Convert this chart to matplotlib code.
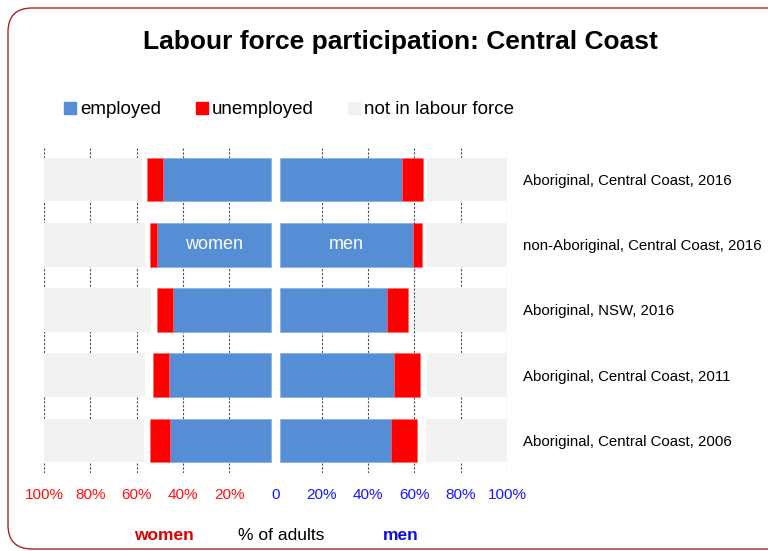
import matplotlib
matplotlib.use("Agg")
import matplotlib.pyplot as plt
from matplotlib.patches import Patch, FancyBboxPatch
from matplotlib.transforms import IdentityTransform
import numpy as np

plt.rcParams['font.family'] = ['Liberation Sans', 'DejaVu Sans']

categories = [
    "Aboriginal, Central Coast, 2016",
    "non-Aboriginal, Central Coast, 2016",
    "Aboriginal, NSW, 2016",
    "Aboriginal, Central Coast, 2011",
    "Aboriginal, Central Coast, 2006",
]

# percent of adults
women_employed = [46.4, 49.0, 42.1, 43.8, 43.7]
women_unemployed = [7.2, 3.4, 7.2, 7.2, 8.6]
women_not_in_lf = [42.2, 43.8, 46.1, 43.8, 43.0]

men_employed = [52.5, 57.4, 46.1, 49.3, 47.7]
men_unemployed = [9.3, 4.0, 9.2, 11.1, 11.5]
men_not_in_lf = [34.7, 35.2, 39.7, 34.5, 35.2]

tick_values = [-100, -80, -60, -40, -20, 0, 20, 40, 60, 80, 100]
tick_labels = ["100%", "80%", "60%", "40%", "20%", "0", "20%", "40%", "60%", "80%", "100%"]

BLUE = "#558ED5"
RED = "#FF0000"
GREY = "#F2F2F2"
GAP = 2.0  # white gap around the centre line

W, H = 768, 551
fig = plt.figure(figsize=(W / 100, H / 100), dpi=100)
ax = fig.add_axes([44 / W, 1 - 473 / H, (507 - 44) / W, (473 - 147) / H])

y = np.arange(len(categories))
h = 0.67
we = np.array(women_employed)
wu = np.array(women_unemployed)
wn = np.array(women_not_in_lf)
me = np.array(men_employed)
mu = np.array(men_unemployed)
mn = np.array(men_not_in_lf)

# grid lines behind the bars
for t in tick_values:
    if t != 0:
        ax.axvline(t, color="#505050", lw=0.8, ls=(0, (2, 1.5)), zorder=0)

# women (left)
ax.barh(y, -we, left=-GAP, height=h, color=BLUE, edgecolor="#8DB3E2", lw=0.6, zorder=2)
ax.barh(y, -wu, left=-GAP - we, height=h, color=RED, edgecolor="#FF6060", lw=0.4, zorder=2)
ax.barh(y, wn, left=-100, height=h, color=GREY, lw=0, zorder=2)

# men (right)
ax.barh(y, me, left=GAP, height=h, color=BLUE, edgecolor="#8DB3E2", lw=0.6, zorder=2)
ax.barh(y, mu, left=GAP + me, height=h, color=RED, edgecolor="#FF6060", lw=0.4, zorder=2)
ax.barh(y, mn, left=100 - mn, height=h, color=GREY, lw=0, zorder=2)

ax.text(-GAP - we[1] / 2, 1, "women", color="white", fontsize=13, ha="center", va="center", zorder=3)
ax.text(GAP + me[1] / 2, 1, "men", color="white", fontsize=13, ha="center", va="center", zorder=3)

ax.set_xlim(-100, 100)
ax.set_ylim(len(categories) - 0.5, -0.5)
for s in ax.spines.values():
    s.set_visible(False)

ax.set_xticks(tick_values)
ax.set_xticklabels(tick_labels, fontsize=11)
ax.tick_params(axis="x", length=0, pad=11)
for lbl, v in zip(ax.get_xticklabels(), tick_values):
    lbl.set_color("#FF1010" if v < 0 else "#1515FF")

ax.yaxis.tick_right()
ax.set_yticks(y)
ax.set_yticklabels(categories, fontsize=10.8)
ax.tick_params(axis="y", length=0, pad=11.5)

# bottom captions
tr = ax.get_xaxis_transform()
ax.text(-48, -0.193, "women", color="#DD0000", fontsize=12.5, fontweight="bold",
        ha="center", va="center", transform=tr)
ax.text(2.5, -0.193, "% of adults", color="black", fontsize=12.5,
        ha="center", va="center", transform=tr)
ax.text(54, -0.193, "men", color="#1010DD", fontsize=12.5, fontweight="bold",
        ha="center", va="center", transform=tr)

fig.text(400 / W, 1 - 42 / H, "Labour force participation: Central Coast",
         fontsize=19, fontweight="bold", ha="center", va="center")

handles = [Patch(color=BLUE), Patch(color=RED), Patch(color=GREY)]
fig.legend(handles, ["employed", "unemployed", "not in labour force"],
           loc="center", bbox_to_anchor=(289 / W, 1 - 110 / H), ncol=3,
           frameon=False, fontsize=13.5, handlelength=0.65, handleheight=0.65,
           handletextpad=0.2, columnspacing=1.85)

# rounded outer border
border = FancyBboxPatch((8, 2), 790, 541, boxstyle="round,pad=0,rounding_size=24",
                        transform=IdentityTransform(), fill=False,
                        edgecolor="#A3262A", lw=1.0)
fig.patches.append(border)

fig.savefig("out.png", dpi=100)
